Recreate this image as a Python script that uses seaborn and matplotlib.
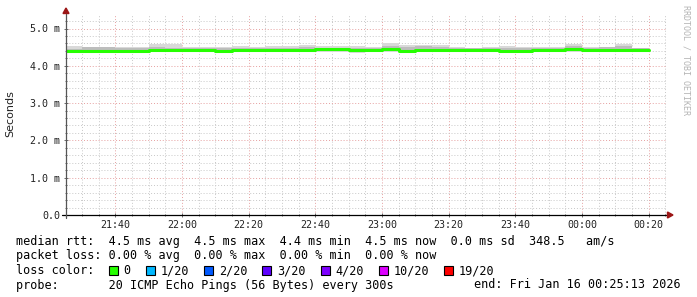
import matplotlib
matplotlib.use("Agg")
import numpy as np
import pandas as pd
import matplotlib.pyplot as plt
import seaborn as sns
from matplotlib.ticker import FixedLocator, FuncFormatter
from matplotlib.patches import Rectangle, Polygon

# ---------------- data ----------------
seg_end = ["21:30", "21:35", "21:40", "21:45", "21:50", "21:55", "22:00", "22:05", "22:10",
           "22:15", "22:20", "22:25", "22:30", "22:35", "22:40", "22:45", "22:50", "22:55",
           "23:00", "23:05", "23:10", "23:15", "23:20", "23:25", "23:30", "23:35", "23:40",
           "23:45", "23:50", "23:55", "00:00", "00:05", "00:10", "00:15", "00:20"]
median_ms = [4.41, 4.41, 4.41, 4.40, 4.41, 4.42, 4.42, 4.42, 4.42,
             4.41, 4.42, 4.42, 4.42, 4.42, 4.42, 4.44, 4.44, 4.42,
             4.42, 4.44, 4.41, 4.42, 4.42, 4.42, 4.42, 4.42, 4.41,
             4.41, 4.42, 4.42, 4.44, 4.42, 4.42, 4.42, 4.42]
smoke_max_ms = [4.54, 4.51, 4.51, 4.50, 4.50, 4.58, 4.58, 4.50, 4.50,
                4.50, 4.54, 4.50, 4.54, 4.54, 4.56, 4.54, 4.54, 4.54,
                4.51, 4.60, 4.56, 4.56, 4.56, 4.51, 4.47, 4.51, 4.54,
                4.51, 4.51, 4.51, 4.58, 4.51, 4.51, 4.58, 4.47]
smoke_q3_ms = [4.46, 4.50, 4.50, 4.49, 4.47, 4.50, 4.47, 4.49, 4.49,
               4.49, 4.49, 4.49, 4.47, 4.47, 4.50, 4.47, 4.47, 4.47,
               4.49, 4.52, 4.50, 4.52, 4.50, 4.49, 4.47, 4.49, 4.49,
               4.49, 4.49, 4.49, 4.52, 4.49, 4.50, 4.52, 4.47]
smoke_q1_ms = [4.39, 4.39, 4.39, 4.38, 4.38, 4.39, 4.39, 4.39, 4.39,
               4.39, 4.39, 4.39, 4.39, 4.39, 4.39, 4.41, 4.41, 4.38,
               4.39, 4.41, 4.38, 4.39, 4.39, 4.39, 4.39, 4.39, 4.38,
               4.38, 4.39, 4.39, 4.41, 4.39, 4.39, 4.39, 4.39]
smoke_min_ms = [4.37, 4.37, 4.37, 4.37, 4.33, 4.37, 4.37, 4.37, 4.37,
                4.37, 4.37, 4.37, 4.37, 4.37, 4.37, 4.37, 4.37, 4.34,
                4.36, 4.37, 4.36, 4.37, 4.37, 4.37, 4.37, 4.36, 4.33,
                4.36, 4.37, 4.37, 4.37, 4.36, 4.36, 4.37, 4.37]

x_tick_labels = ["21:40", "22:00", "22:20", "22:40", "23:00", "23:20", "23:40", "00:00", "00:20"]
y_tick_values = [0, 1, 2, 3, 4, 5]
range_start = "21:25:13"
range_end = "00:25:13"

loss_labels = ["0", "1/20", "2/20", "3/20", "4/20", "10/20", "19/20"]
loss_colors = ["#26ff00", "#00b8ff", "#0059ff", "#5e00ff", "#7e00ff", "#dd00ff", "#ff0000"]

line_rtt = "median rtt:  4.5 ms avg  4.5 ms max  4.4 ms min  4.5 ms now  0.0 ms sd  348.5   am/s"
line_loss = "packet loss: 0.00 % avg  0.00 % max  0.00 % min  0.00 % now"
line_color = "loss color:"
line_probe = "probe:       20 ICMP Echo Pings (56 Bytes) every 300s"
line_end = "end: Fri Jan 16 00:25:13 2026"
watermark = "RRDTOOL / TOBI OETIKER"


def to_min(s):
    parts = [int(p) for p in s.split(":")]
    m = parts[0] * 60 + parts[1] + (parts[2] / 60 if len(parts) > 2 else 0)
    if parts[0] < 12:
        m += 1440
    return m


ends = np.array([to_min(s) for s in seg_end])
starts = ends - 5
xs = np.append(starts, ends[-1])


def stepped(v):
    v = list(v)
    return np.array(v + [v[-1]])


# ---------------- figure ----------------
sns.set_theme(style="white")
plt.rcParams["font.family"] = ["DejaVu Sans Mono"]

W, H = 697, 297
fig = plt.figure(figsize=(W / 100, H / 100), dpi=100)
fig.patch.set_facecolor("white")
ax_l, ax_r, ax_t, ax_b = 66, 666, 14, 215
ax = fig.add_axes([ax_l / W, 1 - ax_b / H, (ax_r - ax_l) / W, (ax_b - ax_t) / H])
ax.set_facecolor("white")

px_per_ms = 37.3
ax.set_ylim(0, (ax_b - ax_t) / px_per_ms)
ax.set_xlim(to_min(range_start), to_min(range_end))

# smoke
ax.fill_between(xs, stepped(smoke_min_ms), stepped(smoke_max_ms), step="post",
                color="#d9d9d9", lw=0, zorder=2)
ax.fill_between(xs, stepped(smoke_q1_ms), stepped(smoke_q3_ms), step="post",
                color="#bdbdbd", lw=0, zorder=3)

# median line (step) via seaborn
rows_t, rows_v = [], []
for s, e, v in zip(starts, ends, median_ms):
    rows_t += [s, e]
    rows_v += [v, v]
df = pd.DataFrame({"t": rows_t, "ms": rows_v})
sns.lineplot(data=df, x="t", y="ms", sort=False, estimator=None, color=loss_colors[0],
             lw=2.2, ax=ax, zorder=4)
ax.set_xlabel("")
ax.set_ylabel("")

# ticks & grid
major_x = [to_min(s) for s in x_tick_labels]
minor_x = np.arange(to_min("21:30"), to_min("00:25") + 0.1, 5)
ax.xaxis.set_major_locator(FixedLocator(major_x))
ax.xaxis.set_minor_locator(FixedLocator(minor_x))
ax.set_xticklabels(x_tick_labels)
ax.yaxis.set_major_locator(FixedLocator(y_tick_values))
ax.yaxis.set_minor_locator(FixedLocator(np.arange(0.2, 5.4, 0.2)))
ax.yaxis.set_major_formatter(FuncFormatter(lambda v, p: "0.0" if v == 0 else f"{v:.1f} m"))

ax.grid(which="minor", color="#c8c8c8", lw=0.7, ls=(0, (1, 2)), zorder=1)
ax.grid(which="major", color="#e6a0a0", lw=0.7, ls=(0, (1, 2)), zorder=1)
ax.set_axisbelow(True)

ax.tick_params(axis="both", which="both", direction="inout", length=2.5, width=0.6,
               color="#555555", labelsize=7.2, labelcolor="#222222")
ax.tick_params(axis="x", which="major", pad=2.5)
ax.tick_params(axis="y", which="major", pad=3)
ax.tick_params(which="minor", length=2)
ax.tick_params(left=True, bottom=True, which="both")

for sp in ax.spines.values():
    sp.set_visible(False)

# axis lines with arrows
ax.plot([-0.006, 1.006], [0, 0], transform=ax.transAxes, color="#000000", lw=0.9,
        clip_on=False, zorder=6)
ax.plot([0, 0], [-0.015, 1.0], transform=ax.transAxes, color="#555555", lw=0.9,
        clip_on=False, zorder=6)
arrow_c = "#9b1515"
fig.patches.append(Polygon([[ax_l / W, 1 - 8 / H], [(ax_l - 3) / W, 1 - 13.5 / H],
                            [(ax_l + 3) / W, 1 - 13.5 / H]], closed=True,
                           transform=fig.transFigure, color=arrow_c, zorder=7))
fig.patches.append(Polygon([[673 / W, 1 - ax_b / H], [667.5 / W, 1 - (ax_b - 3) / H],
                            [667.5 / W, 1 - (ax_b + 3) / H]], closed=True,
                           transform=fig.transFigure, color=arrow_c, zorder=7))

# labels
fig.text(10 / W, 1 - 114 / H, "Seconds", rotation=90, ha="center", va="center",
         fontsize=8, family="DejaVu Sans", color="#222222")
fig.text(686 / W, 1 - 5 / H, watermark, rotation=270, ha="center", va="top",
         fontsize=6, color="#b4b4b4")

# legend block
fs = 8.5
tx = 16 / W
fig.text(tx, 1 - 241 / H, line_rtt, fontsize=fs, va="center", ha="left", color="black")
fig.text(tx, 1 - 256 / H, line_loss, fontsize=fs, va="center", ha="left", color="black")
fig.text(tx, 1 - 270.5 / H, line_color, fontsize=fs, va="center", ha="left", color="black")
fig.text(tx, 1 - 285 / H, line_probe, fontsize=fs, va="center", ha="left", color="black")
fig.text(681 / W, 1 - 285 / H, line_end, fontsize=fs, va="center", ha="right", color="black")

cw = 7.05
bx = 109.0
by = 270.5
for lab, col in zip(loss_labels, loss_colors):
    fig.patches.append(Rectangle((bx / W, 1 - (by + 4.5) / H), 9 / W, 9 / H,
                                 transform=fig.transFigure, facecolor=col,
                                 edgecolor="black", lw=0.8))
    lx = bx + 14.5
    fig.text(lx / W, 1 - by / H, lab, fontsize=fs, va="center", ha="left", color="black")
    bx = lx + len(lab) * cw + 15.5

fig.savefig("out.png", dpi=100, facecolor="white")
